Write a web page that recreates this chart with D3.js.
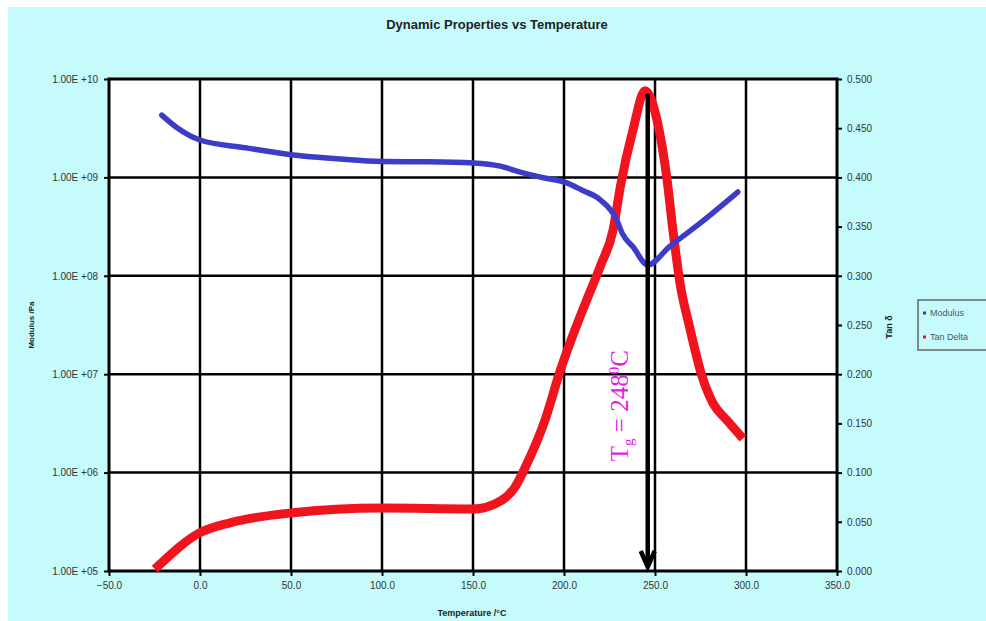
<!DOCTYPE html>
<html>
<head>
<meta charset="utf-8">
<script src="https://cdn.jsdelivr.net/npm/d3@7"></script>
<style>
  body { margin: 0; background: #fff; }
  svg { display: block; }
  .tick text { font-family: "Liberation Sans", Arial, sans-serif; font-size: 10px; fill: #333; }
</style>
</head>
<body>
<script>
// modulus curve (Pa, log axis)
const modTemp = [-21, -12.6, 0, 25, 50, 75, 100, 125, 150, 165, 176, 190, 200, 210, 220, 229, 232, 238, 246, 258, 275, 295.5];
const modValue = [4.3e9, 3.2e9, 2.4e9, 2.0e9, 1.7e9, 1.55e9, 1.45e9, 1.44e9, 1.4e9, 1.3e9, 1.13e9, 9.8e8, 9.0e8, 7.4e8, 5.9e8, 3.7e8, 2.7e8, 1.96e8, 1.29e8, 1.98e8, 3.45e8, 7.1e8];

// tan delta curve (right axis)
const tanTemp = [-23, 0, 16.5, 50, 100, 150, 165, 173, 178.6, 189.5, 198, 206, 212.6, 220, 227, 231, 238, 244.5, 251, 256.6, 260, 263.7, 269, 276, 282, 289.6, 296.7];
const tanValue = [0.005, 0.039, 0.049, 0.059, 0.064, 0.063, 0.071, 0.085, 0.105, 0.153, 0.204, 0.245, 0.276, 0.31, 0.347, 0.391, 0.449, 0.488, 0.459, 0.398, 0.344, 0.293, 0.248, 0.197, 0.170, 0.153, 0.138];

const xTicks = [-50, 0, 50, 100, 150, 200, 250, 300, 350];
const leftTicks = [1e5, 1e6, 1e7, 1e8, 1e9, 1e10];
const rightTicks = d3.range(0, 0.5001, 0.05);
const tgTemp = 246;

const width = 986, height = 621;
const plotL = 109, plotR = 837, plotT = 79, plotB = 571;

let svg = d3.select("body").append("svg")
    .attr("width", width)
    .attr("height", height);

svg.append("rect")
    .attr("x", 8).attr("y", 7)
    .attr("width", width - 8).attr("height", height - 7)
    .attr("fill", "#c6fbfb");

let x = d3.scaleLinear().domain([-50, 350]).range([plotL, plotR]);
let yL = d3.scaleLog().domain([1e5, 1e10]).range([plotB, plotT]);
let yR = d3.scaleLinear().domain([0, 0.5]).range([plotB, plotT]);

svg.append("rect")
    .attr("x", plotL).attr("y", plotT)
    .attr("width", plotR - plotL).attr("height", plotB - plotT)
    .attr("fill", "#fff");

// grid
svg.append("g").selectAll("line")
    .data(xTicks.slice(1, -1))
    .enter().append("line")
    .attr("x1", d => x(d)).attr("x2", d => x(d))
    .attr("y1", plotT).attr("y2", plotB)
    .attr("stroke", "#000").attr("stroke-width", 2.5);

svg.append("g").selectAll("line")
    .data(leftTicks.slice(1, -1))
    .enter().append("line")
    .attr("x1", plotL).attr("x2", plotR)
    .attr("y1", d => yL(d)).attr("y2", d => yL(d))
    .attr("stroke", "#000").attr("stroke-width", 2.5);

// axes
let fmtE = d => "1.00E +" + d3.format("02d")(Math.round(Math.log10(d)));

let gLeft = svg.append("g")
    .attr("transform", `translate(${plotL},0)`)
    .call(d3.axisLeft(yL).tickValues(leftTicks).tickFormat(fmtE).tickSize(5).tickPadding(6));

let gBottom = svg.append("g")
    .attr("transform", `translate(0,${plotB})`)
    .call(d3.axisBottom(x).tickValues(xTicks).tickFormat(d3.format(".1f")).tickSize(5).tickPadding(6));

let gRight = svg.append("g")
    .attr("transform", `translate(${plotR},0)`)
    .call(d3.axisRight(yR).tickValues(rightTicks).tickFormat(d3.format(".3f")).tickSize(5).tickPadding(5));

[gLeft, gBottom, gRight].forEach(g => {
    g.select(".domain").remove();
    g.selectAll(".tick line").attr("stroke", "#000").attr("stroke-width", 2);
});

svg.append("rect")
    .attr("x", plotL).attr("y", plotT)
    .attr("width", plotR - plotL).attr("height", plotB - plotT)
    .attr("fill", "none")
    .attr("stroke", "#000").attr("stroke-width", 3);

// curves
let modData = modTemp.map((t, i) => ({t, v: modValue[i]}));
let tanData = tanTemp.map((t, i) => ({t, v: tanValue[i]}));

svg.append("path")
    .datum(tanData)
    .attr("fill", "none")
    .attr("stroke", "#f0141e")
    .attr("stroke-width", 9)
    .attr("stroke-linecap", "square")
    .attr("stroke-linejoin", "round")
    .attr("d", d3.line().x(d => x(d.t)).y(d => yR(d.v)).curve(d3.curveMonotoneX));

svg.append("path")
    .datum(modData)
    .attr("fill", "none")
    .attr("stroke", "#3c3cc8")
    .attr("stroke-width", 5.5)
    .attr("stroke-linecap", "round")
    .attr("stroke-linejoin", "round")
    .attr("d", d3.line().x(d => x(d.t)).y(d => yL(d.v)).curve(d3.curveMonotoneX));

// Tg arrow
let ax = x(tgTemp);
svg.append("line")
    .attr("x1", ax).attr("x2", ax)
    .attr("y1", yR(0.485)).attr("y2", plotB - 4)
    .attr("stroke", "#000").attr("stroke-width", 4.5);
svg.append("path")
    .attr("d", `M${ax - 7},${plotB - 20} L${ax},${plotB - 4} L${ax + 7},${plotB - 20}`)
    .attr("fill", "none")
    .attr("stroke", "#000").attr("stroke-width", 4.5);

let tg = svg.append("text")
    .attr("transform", `translate(${ax - 20},${yR(0.168)}) rotate(-90)`)
    .attr("text-anchor", "middle")
    .attr("font-family", "'Liberation Serif', 'Times New Roman', serif")
    .attr("font-size", 25)
    .attr("fill", "#e619e6");
tg.append("tspan").text("T");
tg.append("tspan").attr("font-size", 15).attr("dy", 5).text("g");
tg.append("tspan").attr("dy", -5).text(" = 248");
tg.append("tspan").attr("font-size", 15).attr("dy", -9).text("0");
tg.append("tspan").attr("dy", 9).text("C");

// titles
svg.append("text")
    .attr("x", 497).attr("y", 29)
    .attr("text-anchor", "middle")
    .attr("font-family", "'Liberation Sans Narrow', 'Liberation Sans', Arial, sans-serif")
    .attr("font-weight", "bold")
    .attr("font-size", 13)
    .attr("fill", "#222")
    .text("Dynamic Properties vs  Temperature");

svg.append("text")
    .attr("x", 472).attr("y", 616)
    .attr("text-anchor", "middle")
    .attr("font-family", "'Liberation Sans Narrow', 'Liberation Sans', Arial, sans-serif")
    .attr("font-weight", "bold")
    .attr("font-size", 9)
    .attr("fill", "#222")
    .text("Temperature /°C");

svg.append("text")
    .attr("transform", `translate(34,325) rotate(-90)`)
    .attr("text-anchor", "middle")
    .attr("font-family", "'Liberation Sans Narrow', 'Liberation Sans', Arial, sans-serif")
    .attr("font-weight", "bold")
    .attr("font-size", 8)
    .attr("fill", "#222")
    .text("Modulus /Pa");

svg.append("text")
    .attr("transform", `translate(892,327) rotate(-90)`)
    .attr("text-anchor", "middle")
    .attr("font-family", "'Liberation Sans', Arial, sans-serif")
    .attr("font-weight", "bold")
    .attr("font-size", 9)
    .attr("fill", "#222")
    .text("Tan δ");

// legend
let lg = svg.append("g").attr("transform", "translate(918,300)");
lg.append("rect")
    .attr("width", 80).attr("height", 50)
    .attr("fill", "none")
    .attr("stroke", "#666").attr("stroke-width", 1.5);
let items = [["Modulus", "#3c3cc8"], ["Tan Delta", "#f0141e"]];
let li = lg.selectAll("g.item").data(items).enter().append("g")
    .attr("transform", (d, i) => `translate(6,${13 + i * 24})`);
li.append("rect")
    .attr("x", -1).attr("y", -1.5).attr("width", 3).attr("height", 3)
    .attr("fill", d => d[1]);
li.append("text")
    .attr("x", 6).attr("y", 3)
    .attr("font-family", "'Liberation Sans', Arial, sans-serif")
    .attr("font-size", 9)
    .attr("fill", "#555")
    .text(d => d[0]);
</script>
</body>
</html>
